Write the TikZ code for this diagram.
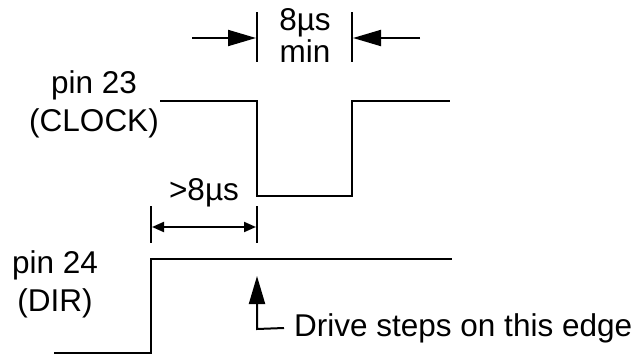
\documentclass[tikz,border=0pt]{standalone}
\usepackage{fontspec}
\setmainfont{Liberation Sans}
\usetikzlibrary{arrows.meta, positioning}

\begin{document}
\begin{tikzpicture}[
    x=1pt, y=-1pt,
    wave/.style={line width=2pt, line join=miter},
    tick/.style={line width=2pt},
    bigarrow/.style={-{Triangle[length=28pt, width=16pt]}, line width=2pt},
    dimarrow/.style={{Triangle[length=12pt, width=10pt]}-{Triangle[length=12pt, width=10pt]}, line width=2pt},
    lbl/.style={font=\fontsize{31.5}{38}\selectfont, align=center, inner sep=0pt}
]
    \useasboundingbox (0,0) rectangle (638,356);

    % Clock waveform
    \coordinate (c0) at (160,101);
    \coordinate (c1) at (257,101);
    \coordinate (c2) at (257,196);
    \coordinate (c3) at (352,196);
    \coordinate (c4) at (352,101);
    \coordinate (c5) at (450,101);
    \draw[wave] (c0) -- (c1) -- (c2) -- (c3) -- (c4) -- (c5);

    % Dir waveform
    \coordinate (d0) at (54,353);
    \coordinate (d1) at (151,353);
    \coordinate (d2) at (151,259);
    \coordinate (d3) at (452,259);
    \draw[wave] (d0) -- (d1) -- (d2) -- (d3);

    % Labels
    \node[lbl] (pin23) at (94,104) {pin 23\\(CLOCK)};
    \node[lbl] (pin24) at (55,284) {pin 24\\(DIR)};

    % 8us min width
    \coordinate (ta1) at (257,12);
    \coordinate (tb1) at (257,62);
    \coordinate (ta2) at (352,12);
    \coordinate (tb2) at (352,62);
    \draw[tick] (ta1) -- (tb1);
    \draw[tick] (ta2) -- (tb2);
    \coordinate (la) at (192,38);
    \coordinate (lb) at (256,38);
    \coordinate (ra) at (420,38);
    \coordinate (rb) at (353,38);
    \draw[bigarrow] (la) -- (lb);
    \draw[bigarrow] (ra) -- (rb);
    \node[lbl, font=\fontsize{31.5}{32}\selectfont] (minw) at (305,36) {8µs\\min};

    % Setup time
    \coordinate (sa1) at (151,206);
    \coordinate (sb1) at (151,243);
    \coordinate (sa2) at (257,206);
    \coordinate (sb2) at (257,243);
    \draw[tick] (sa1) -- (sb1);
    \draw[tick] (sa2) -- (sb2);
    \coordinate (sl) at (152,227);
    \coordinate (sr) at (256,227);
    \draw[dimarrow] (sl) -- (sr);
    \node[lbl] (setup) at (204,193) {>8µs};

    % Edge note
    \node[lbl, anchor=west] (note) at (294,328) {Drive steps on this edge};
    \coordinate (corner) at (257,329);
    \coordinate (tip) at (257,276);
    \draw[bigarrow] (note.west) ++(-10,0) -- (corner) -- (tip);
\end{tikzpicture}
\end{document}
